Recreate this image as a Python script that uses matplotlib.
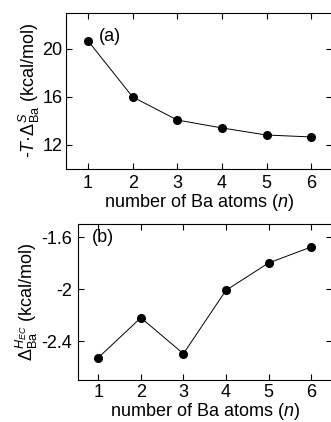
import matplotlib
matplotlib.use('Agg')
import matplotlib.pyplot as plt

plt.rcParams['font.family'] = 'Liberation Sans'
plt.rcParams['mathtext.fontset'] = 'custom'
plt.rcParams['mathtext.rm'] = 'Liberation Sans'
plt.rcParams['mathtext.it'] = 'Liberation Sans:italic'
plt.rcParams['mathtext.bf'] = 'Liberation Sans:bold'

n_atoms = [1, 2, 3, 4, 5, 6]
entropy_term = [20.67, 16.0, 14.08, 13.42, 12.83, 12.67]
enthalpy_ec = [-2.528, -2.221, -2.498, -2.01, -1.80, -1.677]

FS = 13

fig = plt.figure(figsize=(3.31, 4.22), dpi=100)
axA = fig.add_axes([0.1994, 0.5995, 0.804, 0.370])
axB = fig.add_axes([0.2347, 0.0995, 0.768, 0.369])

def style(ax, ypad, xpad, xlabpad):
    ax.tick_params(direction='in', top=True, right=True, length=4.3, width=0.8,
                   labelsize=FS)
    ax.tick_params(axis='x', pad=xpad)
    ax.tick_params(axis='y', pad=ypad)
    for s in ax.spines.values():
        s.set_linewidth(0.8)
    ax.set_xticks(n_atoms)
    ax.set_xlabel('number of Ba atoms ($n$)', fontsize=FS, labelpad=xlabpad)

axA.plot(n_atoms, entropy_term, '-o', color='black', lw=0.7, ms=5.5)
axA.set_xlim(0.507, 6.47)
axA.set_ylim(10, 23)
axA.set_yticks([12, 16, 20])
style(axA, 2.4, 4, 0)
axA.set_ylabel(r'-$T$·$\Delta^{S}_{\rm Ba}$ (kcal/mol)', fontsize=FS, labelpad=0.5)
axA.text(0.125, 0.846, '(a)', transform=axA.transAxes, fontsize=FS, va='center')

axB.plot(n_atoms, enthalpy_ec, '-o', color='black', lw=0.7, ms=5.5)
axB.set_xlim(0.515, 6.49)
axB.set_ylim(-2.70, -1.502)
axB.set_yticks([-2.4, -2.0, -1.6])
axB.set_yticklabels(['-2.4', '-2', '-1.6'])
style(axB, 4, 3, 0)
axB.set_ylabel(r'$\Delta^{H_{EC}}_{\rm Ba}$ (kcal/mol)', fontsize=FS, labelpad=1)
axB.text(0.055, 0.918, '(b)', transform=axB.transAxes, fontsize=FS, va='center')

fig.savefig('out.png', dpi=100)
